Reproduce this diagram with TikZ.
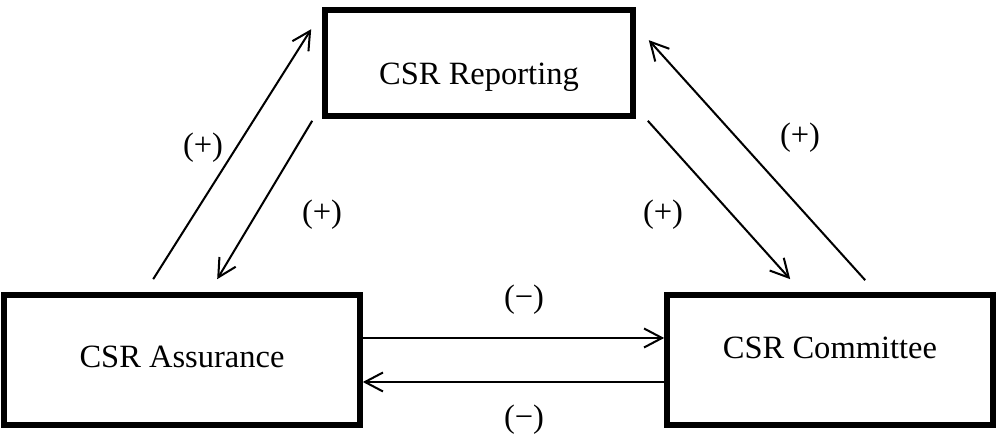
\documentclass[tikz,border=0pt]{standalone}
\usepackage{fontspec}
\setmainfont{Liberation Serif}
\usepackage{tikz}
\usetikzlibrary{arrows.meta}
\tikzset{
	csrbox/.style={draw, line width=3.2pt, minimum width=#1, text depth=0.1cm},
	csrbox/.default=6cm,
	relarrow/.style={line width=1.15pt, -{Straight Barb[length=3.6mm, width=3.8mm, line width=1.15pt]}},
	sign/.style={inner sep=0pt}
}

\begin{document}
\begin{tikzpicture}[font=\fontsize{18.5}{22}\selectfont]
			%%%%% START %%%%%
			\useasboundingbox (0, 0) rectangle (19.98, 8.76);
			
			\node[csrbox=6.16cm, minimum height=2.12cm, text height=0.95cm] (report) at (9.58, 7.5) {CSR Reporting};
			\node[csrbox=7.12cm, minimum height=2.6cm, text height=0.42cm] (assur) at (3.64, 1.56) {CSR Assurance};
			\node[csrbox=6.52cm, minimum height=2.6cm, text height=0.3cm, text depth=0.34cm] (commit) at (16.6, 1.56) {CSR Committee};
			
			\draw[relarrow] ([xshift=3.04cm, yshift=0.26cm]assur.north west) -- ([xshift=-0.22cm, yshift=-0.44cm]report.north west);
			\draw[relarrow] ([xshift=-0.2cm, yshift=-0.04cm]report.south west) -- ([xshift=4.32cm, yshift=0.26cm]assur.north west);
			\draw[relarrow] ([xshift=0.24cm, yshift=-0.04cm]report.south east) -- ([xshift=2.52cm, yshift=0.26cm]commit.north west);
			\draw[relarrow] ([xshift=4.02cm, yshift=0.24cm]commit.north west) -- ([xshift=0.26cm, yshift=-0.66cm]report.north east);
			
			\draw[relarrow] ([yshift=0.44cm]assur.east) -- ([yshift=0.44cm]commit.west);
			\draw[relarrow] ([yshift=-0.44cm]commit.west) -- ([yshift=-0.44cm]assur.east);
			
			\node[sign] (pa) at (4.06, 5.8) {(+)};
			\node[sign] (pb) at (6.44, 4.46) {(+)};
			\node[sign] (pc) at (13.26, 4.46) {(+)};
			\node[sign] (pd) at (16.0, 6.0) {(+)};
			\node[sign] (ma) at (10.48, 2.76) {(−)};
			\node[sign] (mb) at (10.48, 0.36) {(−)};
			%%%%% END %%%%%
\end{tikzpicture}
\end{document}
